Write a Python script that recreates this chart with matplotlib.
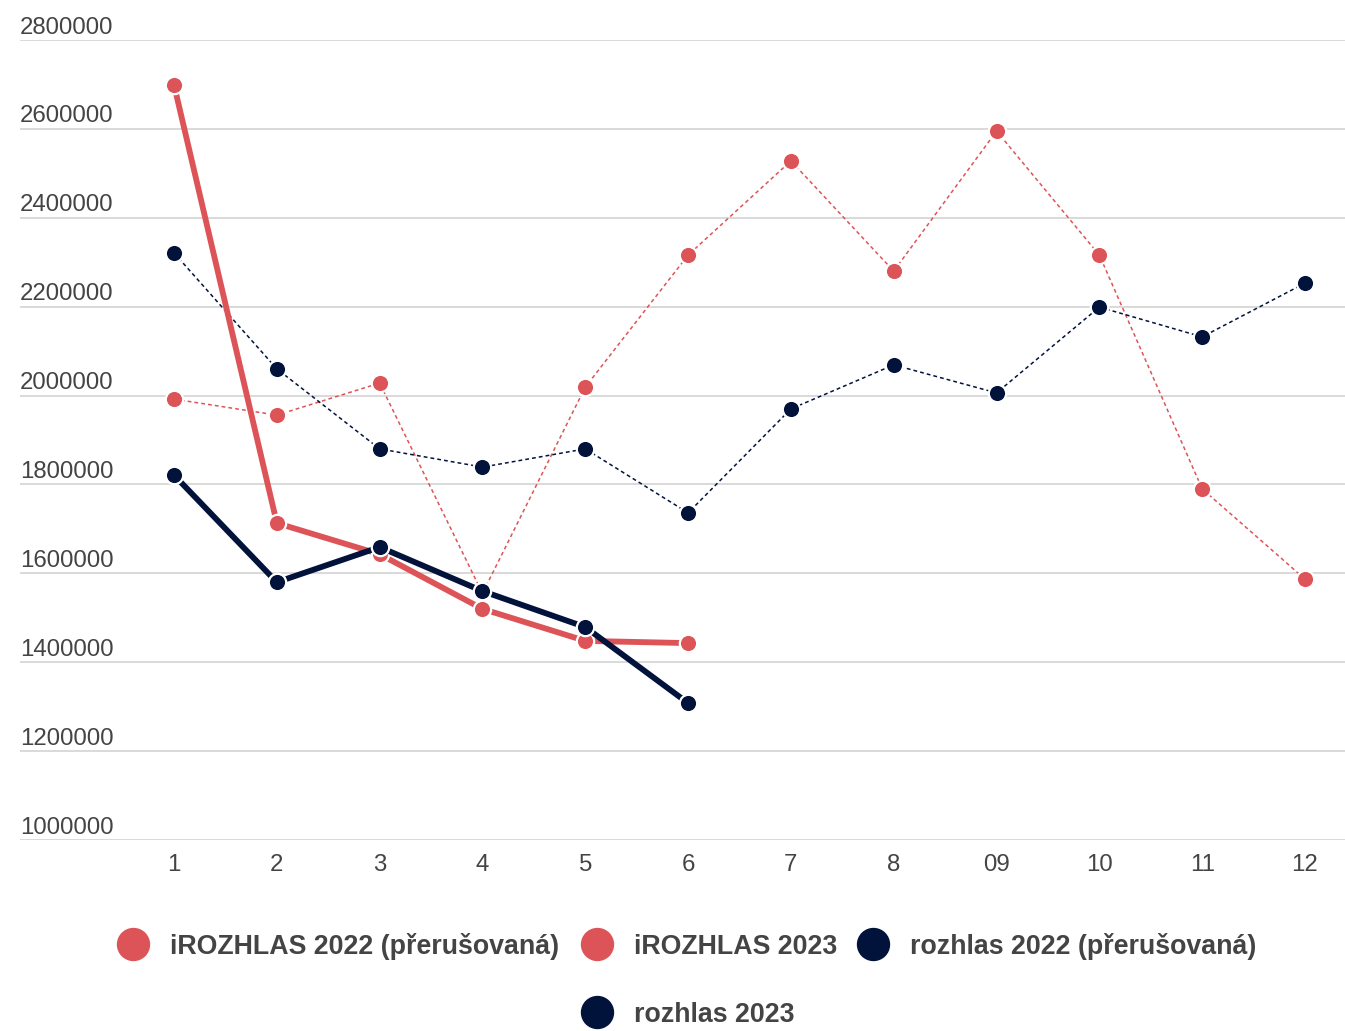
import matplotlib
matplotlib.use("Agg")
import matplotlib.pyplot as plt
from matplotlib.lines import Line2D
from matplotlib.transforms import offset_copy

plt.rcParams['font.family'] = ['Liberation Sans', 'DejaVu Sans']

months = ["1", "2", "3", "4", "5", "6", "7", "8", "09", "10", "11", "12"]
irozhlas_2022 = [1992000, 1956000, 2028000, 1555000, 2019000, 2316000,
                 2528000, 2280000, 2595000, 2316000, 1790000, 1587000]
irozhlas_2023 = [2699000, 1713000, 1643000, 1520000, 1448000, 1443000]
rozhlas_2022 = [2321000, 2060000, 1880000, 1839000, 1880000, 1736000,
                1970000, 2069000, 2006000, 2199000, 2132000, 2253000]
rozhlas_2023 = [1821000, 1580000, 1659000, 1560000, 1479000, 1308000]
y_ticks = [1000000, 1200000, 1400000, 1600000, 1800000, 2000000,
           2200000, 2400000, 2600000, 2800000]
legend_labels = ["iROZHLAS 2022 (přerušovaná)", "iROZHLAS 2023",
                 "rozhlas 2022 (přerušovaná)", "rozhlas 2023"]

RED = '#dd5458'
NAVY = '#01133b'
TXT = '#444444'
W, H = 1345, 1031

fig = plt.figure(figsize=(W / 100, H / 100), dpi=100)
ax = fig.add_axes([20 / W, (H - 840) / H, (W - 20) / W, 800 / H])

x = list(range(1, 13))
ax.set_xlim(1 - 154 / 102.8, 12 + 40 / 102.8)
ax.set_ylim(1000000, 2800000)

ytrans = offset_copy(ax.get_yaxis_transform(), fig=fig, x=0, y=1, units='points')
for v in y_ticks:
    ax.axhline(v, color='#d9d9d9', lw=1.4, zorder=0)
    ax.text(0, v, str(v), transform=ytrans, ha='left',
            va='bottom', fontsize=17.3, color=TXT)

mk = dict(marker='o', markersize=12.5, markeredgecolor='white', markeredgewidth=1.6)
ax.plot(x, irozhlas_2022, color=RED, lw=1.1, ls=(0, (2.5, 2)), markerfacecolor=RED, zorder=2, **mk)
ax.plot(x, rozhlas_2022, color=NAVY, lw=1.1, ls=(0, (2.5, 2)), markerfacecolor=NAVY, zorder=3, **mk)
ax.plot(x[:6], irozhlas_2023, color=RED, lw=4.2, markerfacecolor=RED, zorder=4,
        solid_capstyle='butt', **mk)
ax.plot(x[:6], rozhlas_2023, color=NAVY, lw=4.2, markerfacecolor=NAVY, zorder=5,
        solid_capstyle='butt', **mk)

ax.set_xticks(x)
ax.set_xticklabels(months, fontsize=17.3, color=TXT)
ax.set_yticks([])
ax.tick_params(axis='x', length=0, pad=10)
for s in ax.spines.values():
    s.set_visible(False)

# legend
colors = [RED, RED, NAVY, NAVY]
positions = [(133, 944), (597, 944), (873, 944), (597, 1012)]
for (px, py), lab, c in zip(positions, legend_labels, colors):
    fig.add_artist(Line2D([px / W], [1 - py / H], transform=fig.transFigure,
                          marker='o', markersize=23, color=c, lw=0))
    fig.text((px + 37) / W, 1 - py / H, lab, ha='left', va='center_baseline',
             fontsize=19.3, fontweight='bold', color=TXT)

fig.savefig('out.png', dpi=100)
